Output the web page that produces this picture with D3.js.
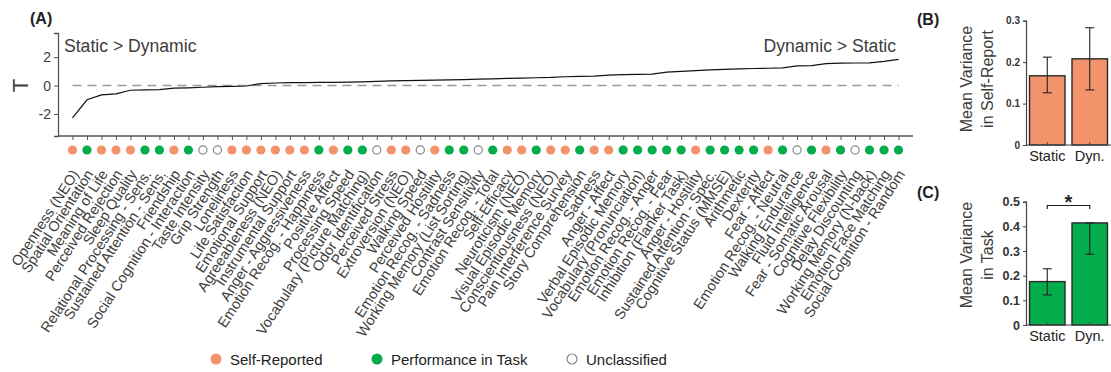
<!DOCTYPE html>
<html>
<head>
<meta charset="utf-8">
<script src="https://cdn.jsdelivr.net/npm/d3@7"></script>
<style>
  html, body { margin: 0; padding: 0; background: #fff; }
  svg { display: block; font-family: "Liberation Sans", Arial, Helvetica, sans-serif; }
</style>
</head>
<body>
<svg id="chart" width="1111" height="372"></svg>
<script>
// Measures sorted by T statistic (dynamic vs. static)
const measures = [
  "Openness (NEO)", "Spatial Orientation", "Meaning of Life", "Perceived Rejection",
  "Sleep Quality", "Relational Processing - Sens.", "Sustained Attention - Sens.",
  "Friendship", "Social Cognition - Interaction", "Taste Intensity", "Grip Strength",
  "Loneliness", "Life Satisfaction", "Emotional Support", "Agreeableness (NEO)",
  "Instrumental Support", "Anger - Aggressiveness", "Emotion Recog. - Happiness",
  "Positive Affect", "Processing Speed", "Vocabulary (Picture Matching)",
  "Odor Identification", "Perceived Stress", "Extroversion (NEO)", "Walking Speed",
  "Perceived Hostility", "Emotion Recog. - Sadness", "Working Memory (List Sorting)",
  "Contrast Sensitivity", "Emotion Recog. - Total", "Self-Efficacy", "Neuroticism (NEO)",
  "Visual Episodic Memory", "Conscientiousness (NEO)", "Pain Interference Survey",
  "Story Comprehension", "Sadness", "Anger - Affect", "Verbal Episodic Memory",
  "Vocabulary (Pronunciation)", "Emotion Recog. - Anger", "Emotion Recog. - Fear",
  "Inhibition (Flanker Task)", "Anger - Hostility", "Sustained Attention - Spec.",
  "Cognitive Status (MMSE)", "Arithmetic", "Dexterity", "Fear - Affect",
  "Emotion Recog. - Neutral", "Walking Endurance", "Fluid Intelligence",
  "Fear - Somatic Arousal", "Cognitive Flexibility", "Delay Discounting",
  "Working Memory (N-back)", "Emotion Face Matching", "Social Cognition - Random"
];

const tValues = [
  -2.28, -1.00, -0.66, -0.58, -0.33, -0.30, -0.28, -0.18, -0.16, -0.12,
  -0.08, -0.05, -0.03, 0.14, 0.18, 0.20, 0.21, 0.22, 0.23, 0.24,
  0.26, 0.30, 0.33, 0.35, 0.37, 0.38, 0.40, 0.42, 0.45, 0.47,
  0.50, 0.52, 0.55, 0.57, 0.62, 0.64, 0.66, 0.74, 0.77, 0.79,
  0.81, 0.95, 1.00, 1.05, 1.10, 1.14, 1.18, 1.20, 1.22, 1.24,
  1.38, 1.40, 1.55, 1.58, 1.59, 1.60, 1.70, 1.84
];

// S = self-reported, P = performance in task, U = unclassified
const measureTypes = [
  "S","P","S","S","S","P","P","S","P","U",
  "U","S","S","S","S","S","S","P","S","P",
  "P","U","S","S","U","S","P","P","U","P",
  "S","S","P","S","S","P","S","S","P","P",
  "P","P","P","S","P","P","P","P","S","P",
  "U","P","S","P","U","P","P","P"
];

const tTicks = [-2, 0, 2];

const legendKeys = ["S", "P", "U"];
const legendLabels = ["Self-Reported", "Performance in Task", "Unclassified"];

// Panels B and C: mean variance by stimulus condition
const conditions = ["Static", "Dyn."];
const selfReportMean = [0.167, 0.208];
const selfReportLow  = [0.126, 0.133];
const selfReportHigh = [0.212, 0.283];
const selfReportTicks = [0, 0.1, 0.2, 0.3];

const taskMean = [0.176, 0.414];
const taskLow  = [0.122, 0.287];
const taskHigh = [0.228, 0.414];
const taskTicks = [0, 0.1, 0.2, 0.3, 0.4, 0.5];

const ORANGE = "#f2936b";
const GREEN = "#04ad4c";
const TEXT = "#3d3d3d";

const svg = d3.select("#chart");

// ---------- Panel A ----------
const x = d3.scalePoint().domain(measures).range([58, 913]).padding(1);
const y = d3.scaleLinear().domain([-3.55, 3.7]).range([136, 33]);

const gA = svg.append("g");

gA.append("text").attr("x", 30).attr("y", 24)
  .attr("font-size", 16).attr("font-weight", "bold").attr("fill", "#222")
  .text("(A)");

// y axis
const yAxis = d3.axisLeft(y).tickValues(tTicks).tickSize(4).tickPadding(3)
  .tickFormat(d => d < 0 ? "-" + Math.abs(d) : d);
const gy = gA.append("g").attr("transform", "translate(58,0)").call(yAxis);
gy.select(".domain").attr("stroke", "#555").attr("stroke-width", 1.3);
gy.selectAll(".tick line").attr("stroke", "#555");
gy.selectAll(".tick text").attr("font-size", 14).attr("fill", TEXT)
  .attr("font-family", "'Liberation Sans', Arial, sans-serif");

gA.append("text")
  .attr("transform", `translate(28,${y(0)}) rotate(-90)`)
  .attr("text-anchor", "middle").attr("font-size", 22).attr("fill", TEXT)
  .text("T");

// x axis with a tick per measure
const xAxis = d3.axisBottom(x).tickSize(4).tickFormat("");
const gx = gA.append("g").attr("transform", "translate(0,136)").call(xAxis);
gx.select(".domain").attr("stroke", "#555").attr("stroke-width", 1.3)
  .attr("d", "M58,0H913");
gx.selectAll(".tick line").attr("stroke", "#555");

// zero reference
gA.append("line")
  .attr("x1", x(measures[0])).attr("x2", x(measures[measures.length - 1]))
  .attr("y1", y(0)).attr("y2", y(0))
  .attr("stroke", "#999").attr("stroke-width", 1.6).attr("stroke-dasharray", "9,6");

// sorted T curve
const line = d3.line().x((d, i) => x(measures[i])).y(d => y(d));
gA.append("path").datum(tValues).attr("d", line)
  .attr("fill", "none").attr("stroke", "#111").attr("stroke-width", 1.2);

gA.append("text").attr("x", 64).attr("y", 52).attr("font-size", 17.6).attr("fill", TEXT)
  .text("Static > Dynamic");
gA.append("text").attr("x", 896).attr("y", 52).attr("text-anchor", "end")
  .attr("font-size", 17.6).attr("fill", TEXT).text("Dynamic > Static");

// category markers
function styleMarker(sel, type) {
  if (type === "S") sel.attr("fill", ORANGE).attr("stroke", "none");
  else if (type === "P") sel.attr("fill", GREEN).attr("stroke", "none");
  else sel.attr("fill", "#fff").attr("stroke", "#888").attr("stroke-width", 1.2);
}
gA.selectAll("circle.m").data(measures).join("circle")
  .attr("class", "m")
  .attr("cx", d => x(d)).attr("cy", 150)
  .attr("r", d => measureTypes[measures.indexOf(d)] === "U" ? 4.1 : 4.6)
  .each(function (d, i) { styleMarker(d3.select(this), measureTypes[i]); });

// rotated measure names
gA.selectAll("text.lab").data(measures).join("text")
  .attr("class", "lab")
  .attr("transform", d => `translate(${x(d) + 7},${174}) rotate(-57)`)
  .attr("text-anchor", "end").attr("font-size", 14.5).attr("fill", TEXT)
  .text(d => d);

// legend
const legendX = [216, 377, 572];
legendKeys.forEach((k, i) => {
  const c = gA.append("circle").attr("cx", legendX[i]).attr("cy", 359)
    .attr("r", k === "U" ? 5 : 5.5);
  styleMarker(c, k);
  gA.append("text").attr("x", legendX[i] + 14).attr("y", 364.5)
    .attr("font-size", 15).attr("fill", "#222").text(legendLabels[i]);
});

// ---------- Panels B and C ----------
function barPanel(opts) {
  const g = svg.append("g");
  const xb = d3.scaleBand().domain(conditions).range([1026, 1111])
    .paddingInner(0.165).paddingOuter(0.083);
  const yb = d3.scaleLinear().domain(opts.domain).range([opts.bottom, opts.top]);

  g.append("text").attr("x", 917).attr("y", opts.letterY)
    .attr("font-size", 16).attr("font-weight", "bold").attr("fill", "#222")
    .text(opts.letter);

  const ya = d3.axisLeft(yb).tickValues(opts.ticks).tickSize(3).tickPadding(3)
    .tickFormat(d => d === 0 ? "0" : d3.format(".1f")(d));
  const gy = g.append("g").attr("transform", "translate(1026,0)").call(ya);
  gy.select(".domain").attr("stroke", "#444").attr("stroke-width", 1.2);
  gy.selectAll(".tick line").attr("stroke", "#444");
  gy.selectAll(".tick text").attr("font-size", opts.tickSize).attr("font-weight", "bold")
    .attr("fill", "#333").attr("font-family", "'Liberation Sans', Arial, sans-serif");

  g.selectAll("rect").data(opts.mean).join("rect")
    .attr("x", (d, i) => xb(conditions[i])).attr("width", xb.bandwidth())
    .attr("y", d => yb(d)).attr("height", d => yb(0) - yb(d))
    .attr("fill", opts.color).attr("stroke", "#2a2a2a").attr("stroke-width", 1.4);

  const xa = d3.axisBottom(xb).tickSize(0).tickPadding(0).tickFormat("");
  const gx = g.append("g").attr("transform", `translate(0,${yb(0)})`).call(xa);
  gx.select(".domain").attr("stroke", "#444").attr("stroke-width", 1.2).attr("d", "M1026,0H1111");
  conditions.forEach(c => {
    g.append("line").attr("x1", xb(c) + xb.bandwidth() / 2).attr("x2", xb(c) + xb.bandwidth() / 2)
      .attr("y1", yb(0)).attr("y2", yb(0) - 3).attr("stroke", "#444");
    g.append("text").attr("x", xb(c) + xb.bandwidth() / 2).attr("y", yb(0) + 16)
      .attr("text-anchor", "middle").attr("font-size", 14.5).attr("fill", "#222").text(c);
  });

  // error bars
  conditions.forEach((c, i) => {
    const cx = xb(c) + xb.bandwidth() / 2;
    g.append("line").attr("x1", cx).attr("x2", cx)
      .attr("y1", yb(opts.low[i])).attr("y2", yb(opts.high[i]))
      .attr("stroke", "#222").attr("stroke-width", 1.1);
    [opts.low[i], opts.high[i]].forEach(v => {
      g.append("line").attr("x1", cx - 4.5).attr("x2", cx + 4.5)
        .attr("y1", yb(v)).attr("y2", yb(v))
        .attr("stroke", "#222").attr("stroke-width", 1.1);
    });
  });

  const title = g.append("text")
    .attr("transform", `translate(972,${opts.titleY}) rotate(-90)`)
    .attr("text-anchor", "middle").attr("font-size", 16).attr("fill", TEXT);
  title.append("tspan").attr("x", 0).attr("dy", 0).text(opts.title[0]);
  title.append("tspan").attr("x", 0).attr("dy", 21).text(opts.title[1]);

  return { g, xb, yb };
}

barPanel({
  letter: "(B)", letterY: 25, color: ORANGE,
  domain: [0, 0.3], top: 20.7, bottom: 145, ticks: selfReportTicks, tickSize: 10,
  mean: selfReportMean, low: selfReportLow, high: selfReportHigh,
  title: ["Mean Variance", "in Self-Report"], titleY: 79
});

const c = barPanel({
  letter: "(C)", letterY: 198, color: GREEN,
  domain: [0, 0.5], top: 201.7, bottom: 325, ticks: taskTicks, tickSize: 12.5,
  mean: taskMean, low: taskLow, high: taskHigh,
  title: ["Mean Variance", "in Task"], titleY: 255
});

// significance bracket between conditions in panel C
const bx1 = c.xb("Static") + c.xb.bandwidth() / 2;
const bx2 = c.xb("Dyn.") + c.xb.bandwidth() / 2;
c.g.append("path")
  .attr("d", `M${bx1},209V205.5H${bx2}V209`)
  .attr("fill", "none").attr("stroke", "#222").attr("stroke-width", 1.2);
c.g.append("text").attr("x", (bx1 + bx2) / 2).attr("y", 209)
  .attr("text-anchor", "middle").attr("font-size", 20).attr("font-weight", "bold")
  .attr("fill", "#222").text("*");
</script>
</body>
</html>
